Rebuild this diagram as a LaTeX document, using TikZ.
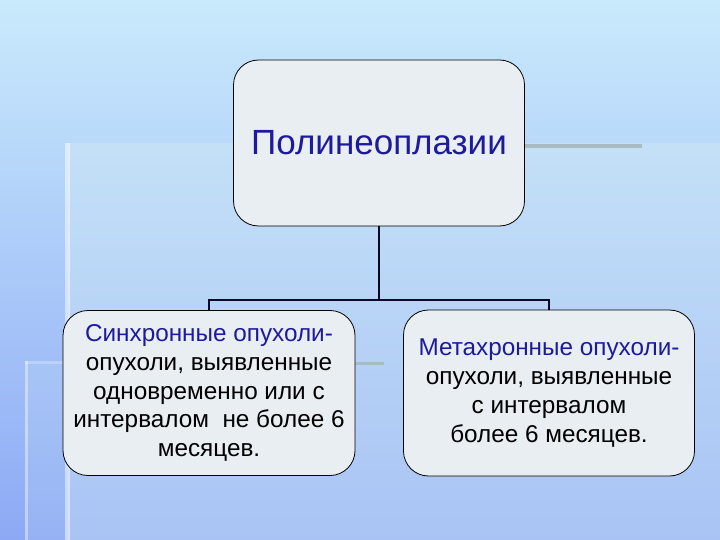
\documentclass[tikz,border=0pt]{standalone}
\usepackage{fontspec}
\setmainfont{Liberation Sans}
\definecolor{bgtop}{HTML}{C9EAFC}
\definecolor{bgbot}{HTML}{8DA9F5}
\definecolor{veil}{HTML}{D4ECF4}
\definecolor{boxfill}{HTML}{E8EEF2}
\definecolor{titleblue}{HTML}{1E1A9E}
\definecolor{barg}{HTML}{A8BCC4}
\definecolor{conn}{HTML}{0A0A28}
\begin{document}
\begin{tikzpicture}[x=1pt,y=-1pt,
  rbox/.style={draw=black, line width=0.8pt, fill=boxfill, rounded corners=25pt, align=center, inner sep=0pt},
  bodytext/.style={font=\fontsize{24.3}{28.75}\selectfont},
  link/.style={draw=conn, line width=2pt}]
\useasboundingbox (0,0) rectangle (720,540);
% background
\shade[top color=bgtop, bottom color=bgbot] (0,0) rectangle (720,540);
\fill[veil, opacity=0.4] (68,143) rectangle (720,540);
\fill[veil, opacity=0.15] (25,362) rectangle (68,540);
% decorative stripes
\fill[white, opacity=0.5] (65,143) rectangle (70,540);
\fill[white, opacity=0.4] (25,361) rectangle (28,540);
\fill[white, opacity=0.25] (25,361) rectangle (68,364);
\fill[barg] (525,144) rectangle (642,148);
\fill[barg] (355,362) rectangle (384,365);
% boxes
\node[rbox, minimum width=291pt, minimum height=166pt, font=\fontsize{35}{40}\selectfont, text=titleblue] (top) at (379,143) {Полинеоплазии};
\node[rbox, bodytext, minimum width=292pt, minimum height=165pt] (left) at (209,393)
  {\textcolor{titleblue}{Синхронные опухоли-}\\опухоли, выявленные\\одновременно или с\\интервалом\ \ не более 6\\месяцев.};
\node[rbox, bodytext, minimum width=291pt, minimum height=166pt] (right) at (549,393)
  {\textcolor{titleblue}{Метахронные опухоли-}\\опухоли, выявленные\\с интервалом\\более 6 месяцев.};
% connectors
\coordinate (j) at (379,300);
\draw[link] (top.south) -- (j);
\draw[link] (left.north) |- (j) -| (right.north);
\end{tikzpicture}
\end{document}
